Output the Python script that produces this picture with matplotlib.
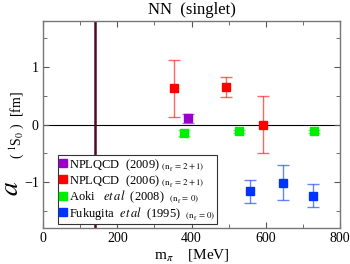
import matplotlib
matplotlib.use('Agg')
import matplotlib.pyplot as plt
from matplotlib.ticker import MultipleLocator

plt.rcParams['font.family'] = ['Liberation Serif', 'DejaVu Serif']
plt.rcParams['mathtext.fontset'] = 'stix'

# NPLQCD (2009), nf = 2+1
npl09_m = [390]
npl09_a = [0.11]
npl09_e = [0.08]

# NPLQCD (2006), nf = 2+1
npl06_m = [353, 493, 593]
npl06_a = [0.63, 0.65, 0.0]
npl06_e = [0.50, 0.18, 0.50]

# Aoki et al (2008), quenched
aoki_m = [380, 528, 730]
aoki_a = [-0.15, -0.12, -0.12]
aoki_e = [0.05, 0.03, 0.03]

# Fukugita et al (1995), quenched
fuku_m = [558, 646, 727]
fuku_a = [-1.16, -1.01, -1.24]
fuku_e = [0.20, 0.30, 0.20]

m_phys = 140

fig = plt.figure(figsize=(3.5, 2.64), dpi=100)
ax = fig.add_axes([43/350, 1-228/264, 297/350, 207/264])

series = [
    (npl09_m, npl09_a, npl09_e, '#9900cc', r'NPLQCD  (2009) $_{\rm (n_f\,=\,2+1)}$'),
    (npl06_m, npl06_a, npl06_e, '#ff0000', r'NPLQCD  (2006) $_{\rm (n_f\,=\,2+1)}$'),
    (aoki_m, aoki_a, aoki_e, '#00ee00', r'Aoki   $\it{et\,al}$  (2008)  $_{\rm (n_f\,=\,0)}$'),
    (fuku_m, fuku_a, fuku_e, '#0033ff', r'Fukugita  $\it{et\,al}$  (1995)  $_{\rm (n_f\,=\,0)}$'),
]

ax.axhline(0, color='black', lw=0.8, zorder=1)
ax.axvline(m_phys, color='#4a0a2a', lw=1.8, zorder=1)

for m, a, e, c, lab in series:
    ax.errorbar(m, a, yerr=e, fmt='none', ecolor=c, alpha=0.6, elinewidth=1,
                capsize=4, capthick=1, zorder=2)
    ax.plot(m, a, 's', color=c, ms=5.5, label=lab, zorder=3)

ax.set_xlim(0, 800)
ax.set_ylim(-1.8, 1.8)
ax.xaxis.set_major_locator(MultipleLocator(200))
ax.xaxis.set_minor_locator(MultipleLocator(100))
ax.yaxis.set_major_locator(MultipleLocator(1))
ax.yaxis.set_minor_locator(MultipleLocator(0.5))
ax.tick_params(which='both', direction='in', top=True, right=True, color='#555555',
               labelsize=10, pad=3)
ax.tick_params(which='major', length=4)
ax.tick_params(which='minor', length=3)
for s in ax.spines.values():
    s.set_color('#777777')
    s.set_linewidth(1)

ax.set_title('NN  (singlet)', fontsize=12, pad=5)
ax.set_xlabel(r'm$_\pi$    [MeV]', fontsize=11, labelpad=1)

fig.text(11/350, 1-188/264, r'$a$', fontsize=20, rotation=90, ha='center', va='center')
fig.text(17/350, 1-125/264, r'( $^1$S$_0$ )  [fm]', fontsize=10, rotation=90,
         ha='center', va='center')

leg = ax.legend(loc='lower left', bbox_to_anchor=(15/297, 4/207), fontsize=9,
                handlelength=0.5, handletextpad=0.2, borderpad=0.15, labelspacing=0.0,
                markerscale=1.0, fancybox=False, framealpha=1, borderaxespad=0)
leg.get_frame().set_edgecolor('#333333')
leg.get_frame().set_linewidth(0.8)

fig.savefig('out.png', dpi=100)
